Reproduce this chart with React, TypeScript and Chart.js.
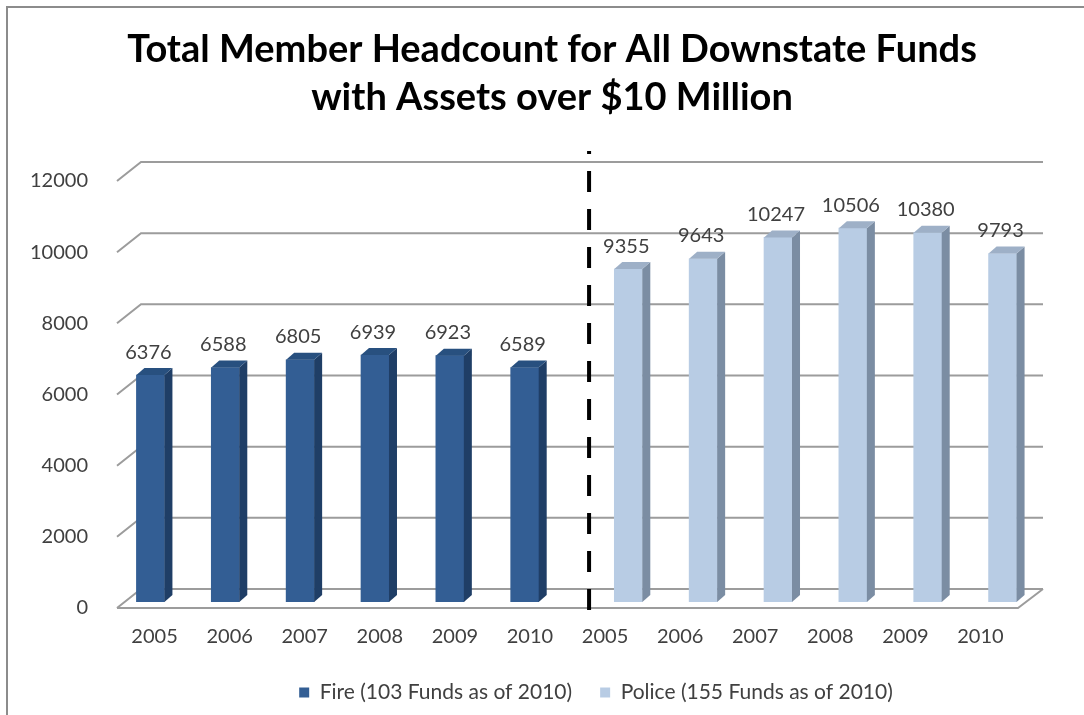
import React, { useEffect, useRef } from 'react';
import { Chart, registerables } from 'chart.js';

Chart.register(...registerables);

// ---------- data ----------
const titleLines = ['Total Member Headcount for All Downstate Funds', 'with Assets over $10 Million'];
const years = ['2005', '2006', '2007', '2008', '2009', '2010'];
const xLabels = [...years, ...years];
const fireName = 'Fire (103 Funds as of 2010)';
const policeName = 'Police (155 Funds as of 2010)';
const fireValues = [6376, 6588, 6805, 6939, 6923, 6589];
const policeValues = [9355, 9643, 10247, 10506, 10380, 9793];
const yTicks = [0, 2000, 4000, 6000, 8000, 10000, 12000];

// ---------- style ----------
const FONT = 'Lato, "Open Sans", "DejaVu Sans", sans-serif';
const GROUP_GAP = 0.384;
const fireColors = { front: '#335E94', side: '#1F3E66', top: '#28507F' };
const policeColors = { front: '#B8CCE4', side: '#7B8DA3', top: '#9EB0C7' };
const DEPTH_DX = 8;
const DEPTH_DY = -7;
const GRID_COLOR = '#9C9C9C';
const TEXT_COLOR = '#404040';
const NUM_SIZE = 20;

const threeD = {
  id: 'threeD',
  afterLayout(chart: any) {
    const lg = chart.legend;
    if (lg) {
      lg.left += 76;
      lg.right += 76;
    }
    const tb = chart.titleBlock;
    if (tb) {
      tb.left += 32;
      tb.right += 32;
    }
  },
  beforeDraw(chart: any) {
    const ctx = chart.ctx;
    ctx.save();
    ctx.strokeStyle = '#8C8C8C';
    ctx.lineWidth = 2;
    ctx.strokeRect(7, 7, chart.width + 20, chart.height + 20);
    ctx.restore();
  },
  beforeDatasetsDraw(chart: any) {
    const { ctx, chartArea: a, scales } = chart;
    const y = scales.y;
    const fl = a.left + 4, fr = a.right - 22, bl = a.left + 28, br = a.right + 3;
    const fOff = 6, bOff = -13;
    ctx.save();
    ctx.strokeStyle = GRID_COLOR;
    ctx.lineWidth = 2;
    yTicks.forEach((v) => {
      const py = y.getPixelForValue(v);
      ctx.beginPath();
      ctx.moveTo(fl, py + fOff);
      ctx.lineTo(bl, py + bOff);
      ctx.lineTo(br, py + bOff);
      ctx.stroke();
    });
    const p0 = y.getPixelForValue(0);
    ctx.beginPath();
    ctx.moveTo(fl, p0 + fOff);
    ctx.lineTo(fr, p0 + fOff);
    ctx.lineTo(br, p0 + bOff);
    ctx.stroke();
    ctx.restore();
  },
  afterDatasetsDraw(chart: any) {
    const { ctx, chartArea: a, scales } = chart;
    const x = scales.x, y = scales.y;
    const palettes = [fireColors, policeColors];
    ctx.save();
    chart.data.datasets.forEach((ds: any, di: number) => {
      const meta = chart.getDatasetMeta(di);
      const pal = palettes[di];
      meta.data.forEach((bar: any, i: number) => {
        const { x: cx, y: top, base, width } = bar.getProps(['x', 'y', 'base', 'width'], true);
        const l = cx - width / 2, r = cx + width / 2;
        ctx.fillStyle = pal.side;
        ctx.beginPath();
        ctx.moveTo(r, top);
        ctx.lineTo(r + DEPTH_DX, top + DEPTH_DY);
        ctx.lineTo(r + DEPTH_DX, base + DEPTH_DY);
        ctx.lineTo(r, base);
        ctx.closePath();
        ctx.fill();
        ctx.fillStyle = pal.top;
        ctx.beginPath();
        ctx.moveTo(l, top);
        ctx.lineTo(l + DEPTH_DX, top + DEPTH_DY);
        ctx.lineTo(r + DEPTH_DX, top + DEPTH_DY);
        ctx.lineTo(r, top);
        ctx.closePath();
        ctx.fill();
        ctx.fillStyle = TEXT_COLOR;
        ctx.font = `${NUM_SIZE}px ${FONT}`;
        ctx.textAlign = 'center';
        ctx.textBaseline = 'middle';
        ctx.fillText(String(ds.data[i].y), cx - 2, top - 23);
      });
    });
    // category labels along the front floor edge
    const fl = a.left + 4, fr = a.right - 22;
    const p0 = y.getPixelForValue(0);
    const step = (fr - fl) / xLabels.length;
    ctx.fillStyle = TEXT_COLOR;
    ctx.font = `${NUM_SIZE}px ${FONT}`;
    ctx.textAlign = 'center';
    ctx.textBaseline = 'middle';
    xLabels.forEach((lab, i) => {
      ctx.fillText(lab, fl + step * (i + 0.5), p0 + 35);
    });
    // dashed separator
    const dx = x.getPixelForValue(years.length - 0.14);
    ctx.strokeStyle = '#000';
    ctx.lineWidth = 4;
    ctx.setLineDash([21, 17]);
    ctx.lineDashOffset = 18;
    ctx.beginPath();
    ctx.moveTo(dx, y.getPixelForValue(12000) - 24);
    ctx.lineTo(dx, p0 + 10);
    ctx.stroke();
    ctx.restore();
  },
};

export default function App() {
  const ref = useRef<HTMLCanvasElement>(null);
  useEffect(() => {
    const fireData = fireValues.map((v, i) => ({ x: i, y: v }));
    const policeData = policeValues.map((v, i) => ({ x: i + years.length + GROUP_GAP, y: v }));
    const chart = new Chart(ref.current as HTMLCanvasElement, {
      type: 'bar',
      data: {
        datasets: [
          { label: fireName, data: fireData as any, backgroundColor: fireColors.front, borderWidth: 0, barThickness: 28, grouped: false } as any,
          { label: policeName, data: policeData as any, backgroundColor: policeColors.front, borderWidth: 0, barThickness: 28, grouped: false } as any,
        ],
      },
      options: {
        responsive: false,
        maintainAspectRatio: false,
        devicePixelRatio: 1,
        animation: false,
        layout: { padding: { left: 0, right: 44, top: 0, bottom: 2 } },
        scales: {
          x: {
            type: 'linear',
            offset: false,
            min: -0.5,
            max: xLabels.length - 0.5 + GROUP_GAP,
            grid: { display: false },
            border: { display: false },
            ticks: { display: false },
            afterFit: (s: any) => { s.height = 52; },
          },
          y: {
            min: 0,
            max: 12000,
            ticks: {
              stepSize: 2000,
              padding: 17,
              labelOffset: 6,
              font: { family: FONT, size: NUM_SIZE },
              color: TEXT_COLOR,
              callback: (v: any) => String(v),
            },
            grid: { display: false },
            border: { display: false },
            afterFit: (s: any) => { s.width = 113; },
          },
        } as any,
        plugins: {
          title: {
            display: true,
            text: titleLines,
            color: '#000',
            font: { family: FONT, size: 38, weight: 'bold', lineHeight: 48 / 38 },
            padding: { top: 26, bottom: 53 },
          },
          legend: {
            position: 'bottom',
            labels: { boxWidth: 10, boxHeight: 10, padding: 28, font: { family: FONT, size: 21 }, color: TEXT_COLOR },
          },
          tooltip: { enabled: false },
        },
      },
      plugins: [threeD],
    });
    return () => chart.destroy();
  }, []);
  return (
    <div style={{ position: 'absolute', left: 0, top: 0, width: 1084, height: 715, background: '#fff' }}>
      <canvas ref={ref} width={1084} height={715} style={{ display: 'block', width: 1084, height: 715 }} />
    </div>
  );
}
